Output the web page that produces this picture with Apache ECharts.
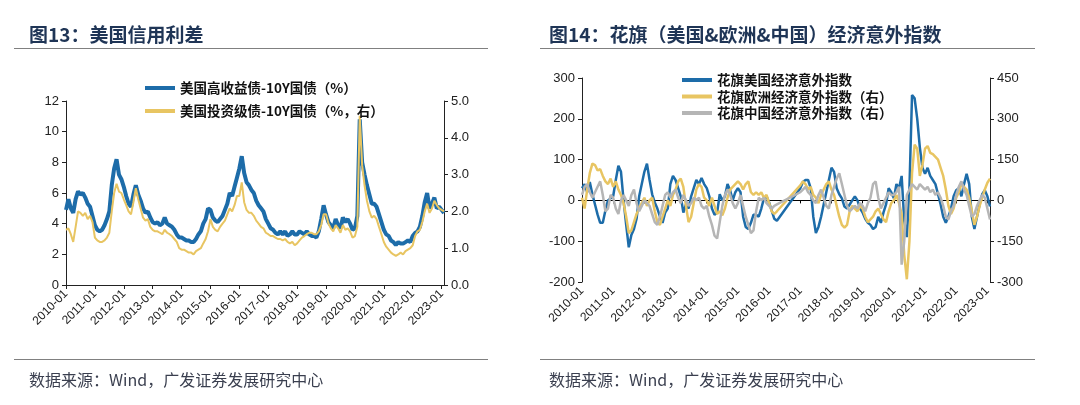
<!doctype html>
<html>
<head>
<meta charset="utf-8">
<script src="https://cdn.jsdelivr.net/npm/echarts@6/dist/echarts.min.js"></script>
<style>
    html, body {margin: 0; padding: 0; background: #fff;}
    #chart {width: 1080px; height: 405px;}
</style>
</head>
<body>
<div id="chart"></div>
<script>
    // 月份 2010-01 ~ 2023-02
    var months = [];
    for (var y = 2010; y <= 2023; y++) {
        for (var m = 1; m <= 12; m++) {
            if (y === 2023 && m > 2) break;
            months.push(y + '-' + (m < 10 ? '0' + m : m));
        }
    }

    // 图13 美国高收益债-10Y国债（%，左轴）
    var hySpread = [
        4.9, 5.6, 5.0, 4.7, 5.6, 6.1, 5.9, 6.0, 5.7, 5.3, 5.1, 4.5,
        3.9, 3.6, 3.5, 3.6, 3.9, 4.3, 4.8, 6.5, 7.6, 8.2, 7.2, 6.9,
        6.4, 5.8, 5.3, 5.1, 5.9, 6.5, 5.9, 5.5, 5.0, 4.7, 4.8, 4.4,
        4.1, 4.0, 4.1, 3.9, 4.0, 4.4, 4.0, 3.9, 3.8, 3.6, 3.3, 3.1,
        3.1, 3.0, 2.9, 2.9, 2.8, 2.8, 3.0, 3.3, 3.5, 4.0, 4.3, 5.0,
        4.9, 4.4, 4.2, 4.1, 4.3, 4.5, 4.9, 5.3, 6.0, 5.8, 6.4, 7.0,
        7.6, 8.4, 7.3, 6.7, 6.5, 6.2, 6.0, 5.5, 5.2, 5.0, 4.8, 4.3,
        4.0, 3.7, 3.6, 3.4, 3.3, 3.5, 3.3, 3.5, 3.2, 3.3, 3.5, 3.3,
        3.3, 3.5, 3.4, 3.3, 3.5, 3.3, 3.2, 3.2, 3.1, 3.5, 4.3, 5.2,
        4.6, 4.1, 3.9, 3.7, 4.3, 3.9, 3.7, 4.4, 4.1, 4.3, 4.0, 3.6,
        3.7, 4.5, 10.8, 8.0, 7.2, 6.5, 5.9, 5.3, 5.3, 5.1, 4.6, 4.1,
        3.6, 3.3, 3.2, 2.9, 2.8, 2.6, 2.8, 2.7, 2.7, 2.8, 2.9, 2.8,
        3.2, 3.4, 3.5, 3.8, 4.5, 5.4, 6.0, 5.0, 5.3, 5.7, 5.0, 5.1,
        4.9, 4.7
    ];
    // 图13 美国投资级债-10Y国债（%，右轴）
    var igSpread = [
        1.50, 1.54, 1.38, 1.17, 1.58, 2.00, 1.96, 1.88, 1.96, 1.79, 1.88, 1.71,
        1.29, 1.21, 1.17, 1.17, 1.21, 1.29, 1.42, 2.00, 2.50, 2.75, 2.54, 2.50,
        2.33, 2.17, 2.00, 1.92, 2.25, 2.63, 2.33, 2.08, 1.83, 1.75, 1.79, 1.58,
        1.50, 1.46, 1.46, 1.42, 1.38, 1.50, 1.42, 1.38, 1.33, 1.25, 1.17, 1.00,
        0.96, 0.96, 0.92, 0.88, 0.88, 0.83, 0.92, 0.96, 1.00, 1.13, 1.25, 1.46,
        1.79, 1.58, 1.50, 1.46, 1.58, 1.67, 1.75, 1.92, 2.08, 2.00, 2.17, 2.42,
        2.42, 2.79, 2.25, 2.04, 1.96, 1.96, 1.88, 1.75, 1.67, 1.58, 1.54, 1.42,
        1.38, 1.33, 1.33, 1.29, 1.25, 1.25, 1.21, 1.25, 1.17, 1.13, 1.17, 1.08,
        1.13, 1.21, 1.29, 1.33, 1.38, 1.42, 1.42, 1.38, 1.38, 1.46, 1.63, 1.92,
        1.92, 1.67, 1.54, 1.46, 1.63, 1.54, 1.42, 1.63, 1.50, 1.54, 1.46, 1.29,
        1.33, 1.58, 4.60, 3.25, 2.71, 2.29, 2.00, 1.83, 1.88, 1.79, 1.58, 1.38,
        1.17, 1.04, 0.96, 0.88, 0.83, 0.79, 0.83, 0.88, 0.83, 0.92, 0.96, 1.00,
        1.08, 1.33, 1.46, 1.50, 1.71, 2.00, 2.21, 1.96, 2.08, 2.29, 2.17, 2.08,
        2.04, 2.00
    ];

    // 图14 花旗经济意外指数（2016-05 ~ 2016-12 缺数据）
    var citiUS = [
        30, 40, 20, 45, 15, -10, -35, -55, -55, -25, 0, 5,
        10, 50, 85, 70, 0, -60, -115, -85, -70, -45, 10, 40,
        70, 90, 50, 15, -5, -20, -40, -55, -30, -20, 40, 60,
        50, 30, 10, -30, -10, -20, 10, 30, 50, 40, 55, 40,
        30, 10, -20, -35, -30, 15, 0, 10, 40, 25, 0, 20,
        30, 20, -40, -65, -70, -55, -35, -35, -40, -20, 5, 10,
        -5, -25, -45, -50, null, null, null, null, null, null, null, null,
        30, 45, 50, 50, 30, -40, -80, -65, -40, -10, 20, 50,
        80, 70, 30, 15, 5, -15, -20, -10, 0, 10, 0, -20,
        -30, -45, -55, -60, -70, -65, -40, -55, -30, -10, 30, 20,
        5, 40, 30, 60, -50, -90, 30, 258, 250, 200, 130, 80,
        65, 80, 60, 50, 40, 15, -10, -40, -55, -40, -20, 10,
        25, 30, 10, 40, 65, 40, -40, -70, -40, -10, 15, 25,
        10, -15
    ];
    var citiEU = [
        10, -30, 40, 100, 135, 130, 110, 115, 90, 70, 60, 80,
        50, 70, 40, 20, -10, -60, -120, -110, -80, -50, -30, -10,
        10, -20, 0, 10, -40, -80, -90, -60, -30, 0, -20, 20,
        40, 70, 80, 50, -20, -80, -60, -10, 40, 60, 50, 10,
        0, -20, 10, -20, -50, -40, -55, -30, 10, 40, 50, 60,
        70, 60, 40, 60, 70, 30, 20, 30, 20, 30, 10, 20,
        -10, -40, -50, -40, null, null, null, null, null, null, null, null,
        55, 70, 60, 40, 50, 20, 10, -10, 20, 40, 60, 70,
        40, 20, -20, -60, -90, -100, -90, -40, -20, -30, -40, -20,
        -30, -60, -80, -70, -60, -40, -30, -50, -70, -80, -40, -10,
        0, 20, -10, -50, -200, -290, -150, 100, 205, 190, 90, 130,
        190, 200, 175, 170, 160, 150, 120, 90, 40, -20, -50, -30,
        10, 30, 60, 50, 40, 10, -40, -90, -60, -20, 10, 40,
        65, 80
    ];
    var citiCN = [
        20, 50, 60, 30, 10, 30, 50, 70, 20, -40, -30, 20,
        10, -30, -50, 0, 20, 0, -20, 20, 40, -10, -40, -20,
        0, -10, -20, -50, -80, -90, -60, -20, 20, 30, 10, 30,
        40, 10, -10, 20, 0, -20, -10, 10, 0, 10, -20, -30,
        -20, -60, -90, -130, -140, -80, -20, 20, 40, 20, -10, -30,
        -10, 20, -20, -60, -90, -120, -110, -40, 10, 0, 10, -10,
        -20, -30, -20, -15, null, null, null, null, null, null, null, null,
        30, 40, 50, 30, 20, 0, -10, 20, 40, 10, -20, -30,
        20, 50, 80, 100, 60, 20, -20, -40, -30, -20, -30, -10,
        -20, -40, -10, 10, 60, 70, 10, -30, -10, 10, 30, 20,
        20, 30, 50, -236, -150, 20, 40, 60, 50, 40, 60, 50,
        40, 50, 30, 40, 20, 30, 10, -20, -60, -70, -40, -20,
        20, 50, 70, 40, 20, -20, -60, -50, -20, 0, 20, 10,
        -30, -70
    ];

    var nameHY = '美国高收益债-10Y国债（%）';
    var nameIG = '美国投资级债-10Y国债（%，右）';
    var nameUS = '花旗美国经济意外指数';
    var nameEU = '花旗欧洲经济意外指数（右）';
    var nameCN = '花旗中国经济意外指数（右）';

    var blue = '#1d6ca9', yellow = '#e8c562', gray = '#b5b5b5';
    var titleColor = '#1f3556';
    var numFont = '"Liberation Sans", Arial, sans-serif';
    var cnFont = '"Noto Sans CJK SC", sans-serif';
    var axisColor = '#222';

    function yearOnly(index, value) {
        return value.slice(5) === '01';
    }

    function xLabel() {
        return {
            interval: yearOnly, rotate: 45, margin: 7,
            fontSize: 12, color: '#222', fontFamily: numFont
        };
    }

    function yAxisOf(grid, pos, min, max, step, fmt) {
        return {
            gridIndex: grid, type: 'value', position: pos,
            min: min, max: max, interval: step,
            axisLine: {show: true, lineStyle: {color: axisColor, width: 1}},
            axisTick: {show: true, length: 4, lineStyle: {color: axisColor}},
            splitLine: {show: false},
            axisLabel: {
                fontSize: 13, color: '#222', fontFamily: numFont, margin: 7,
                formatter: fmt
            }
        };
    }

    var legendText = {fontSize: 13.5, fontWeight: 'bold', color: '#111', fontFamily: cnFont, lineHeight: 16};

    function titleRich(a, b, left) {
        return {
            text: '{a|' + a + '}{b|' + b + '}', left: left, top: 20,
            textStyle: {
                rich: {
                    a: {fontSize: 19, fontWeight: 'bold', color: titleColor, fontFamily: cnFont},
                    b: {fontSize: 19, color: titleColor, fontFamily: cnFont}
                }
            }
        };
    }

    var source = '数据来源：Wind，广发证券发展研究中心';
    var sourceStyle = {fontSize: 16, fontWeight: 'normal', color: '#3a3f4f', fontFamily: cnFont};

    var myChart = echarts.init(document.getElementById('chart'));

    var option = {
        animation: false,
        backgroundColor: '#fff',
        title: [
            titleRich('图13：', '美国信用利差', 24),
            titleRich('图14：', '花旗（美国&欧洲&中国）经济意外指数', 544),
            {text: source, left: 24, top: 367, textStyle: sourceStyle},
            {text: source, left: 544, top: 367, textStyle: sourceStyle}
        ],
        graphic: [
            {type: 'line', shape: {x1: 14, y1: 48.5, x2: 488, y2: 48.5}, style: {stroke: '#808080', lineWidth: 1}},
            {type: 'line', shape: {x1: 540, y1: 48.5, x2: 1035, y2: 48.5}, style: {stroke: '#808080', lineWidth: 1}},
            {type: 'line', shape: {x1: 14, y1: 359.5, x2: 488, y2: 359.5}, style: {stroke: '#808080', lineWidth: 1}},
            {type: 'line', shape: {x1: 540, y1: 359.5, x2: 1035, y2: 359.5}, style: {stroke: '#808080', lineWidth: 1}}
        ],
        legend: [
            {
                data: [nameHY, nameIG], left: 140, top: 75, orient: 'vertical',
                icon: 'rect', itemWidth: 30, itemHeight: 4, itemGap: 7,
                textStyle: legendText
            },
            {
                data: [nameUS, nameEU, nameCN], left: 677, top: 67, orient: 'vertical',
                icon: 'rect', itemWidth: 30, itemHeight: 4, itemGap: 0.5,
                textStyle: legendText
            }
        ],
        grid: [
            {left: 66, top: 101, width: 378, height: 184},
            {left: 582, top: 78, width: 408, height: 204}
        ],
        xAxis: [
            {
                gridIndex: 0, type: 'category', data: months, boundaryGap: false,
                axisLine: {lineStyle: {color: axisColor}},
                axisTick: {interval: yearOnly, length: 4, lineStyle: {color: axisColor}},
                axisLabel: xLabel()
            },
            {
                gridIndex: 1, type: 'category', data: months, boundaryGap: false,
                axisLine: {onZero: true, lineStyle: {color: '#000'}},
                axisTick: {interval: yearOnly, length: 3, lineStyle: {color: '#000'}},
                axisLabel: {show: false}
            },
            {
                gridIndex: 1, type: 'category', data: months, boundaryGap: false, position: 'bottom',
                axisLine: {show: false, onZero: false},
                axisTick: {show: false},
                axisLabel: xLabel()
            }
        ],
        yAxis: [
            yAxisOf(0, 'left', 0, 12, 2),
            yAxisOf(0, 'right', 0, 5, 1, function (v) { return v.toFixed(1); }),
            yAxisOf(1, 'left', -200, 300, 100),
            yAxisOf(1, 'right', -300, 450, 150)
        ],
        series: [
            {
                name: nameHY, type: 'line', xAxisIndex: 0, yAxisIndex: 0, data: hySpread,
                showSymbol: false, lineStyle: {width: 4, color: blue}, itemStyle: {color: blue}
            },
            {
                name: nameIG, type: 'line', xAxisIndex: 0, yAxisIndex: 1, data: igSpread,
                showSymbol: false, lineStyle: {width: 2, color: yellow}, itemStyle: {color: yellow}
            },
            {
                name: nameUS, type: 'line', xAxisIndex: 1, yAxisIndex: 2, data: citiUS, connectNulls: true,
                showSymbol: false, lineStyle: {width: 2.5, color: blue}, itemStyle: {color: blue}
            },
            {
                name: nameEU, type: 'line', xAxisIndex: 1, yAxisIndex: 3, data: citiEU, connectNulls: true,
                showSymbol: false, lineStyle: {width: 2.5, color: yellow}, itemStyle: {color: yellow}
            },
            {
                name: nameCN, type: 'line', xAxisIndex: 1, yAxisIndex: 3, data: citiCN, connectNulls: true,
                showSymbol: false, lineStyle: {width: 2.5, color: gray}, itemStyle: {color: gray}
            }
        ]
    };

    myChart.setOption(option);
    window.addEventListener("resize", function () {
        myChart.resize();
    });
</script>
</body>
</html>
